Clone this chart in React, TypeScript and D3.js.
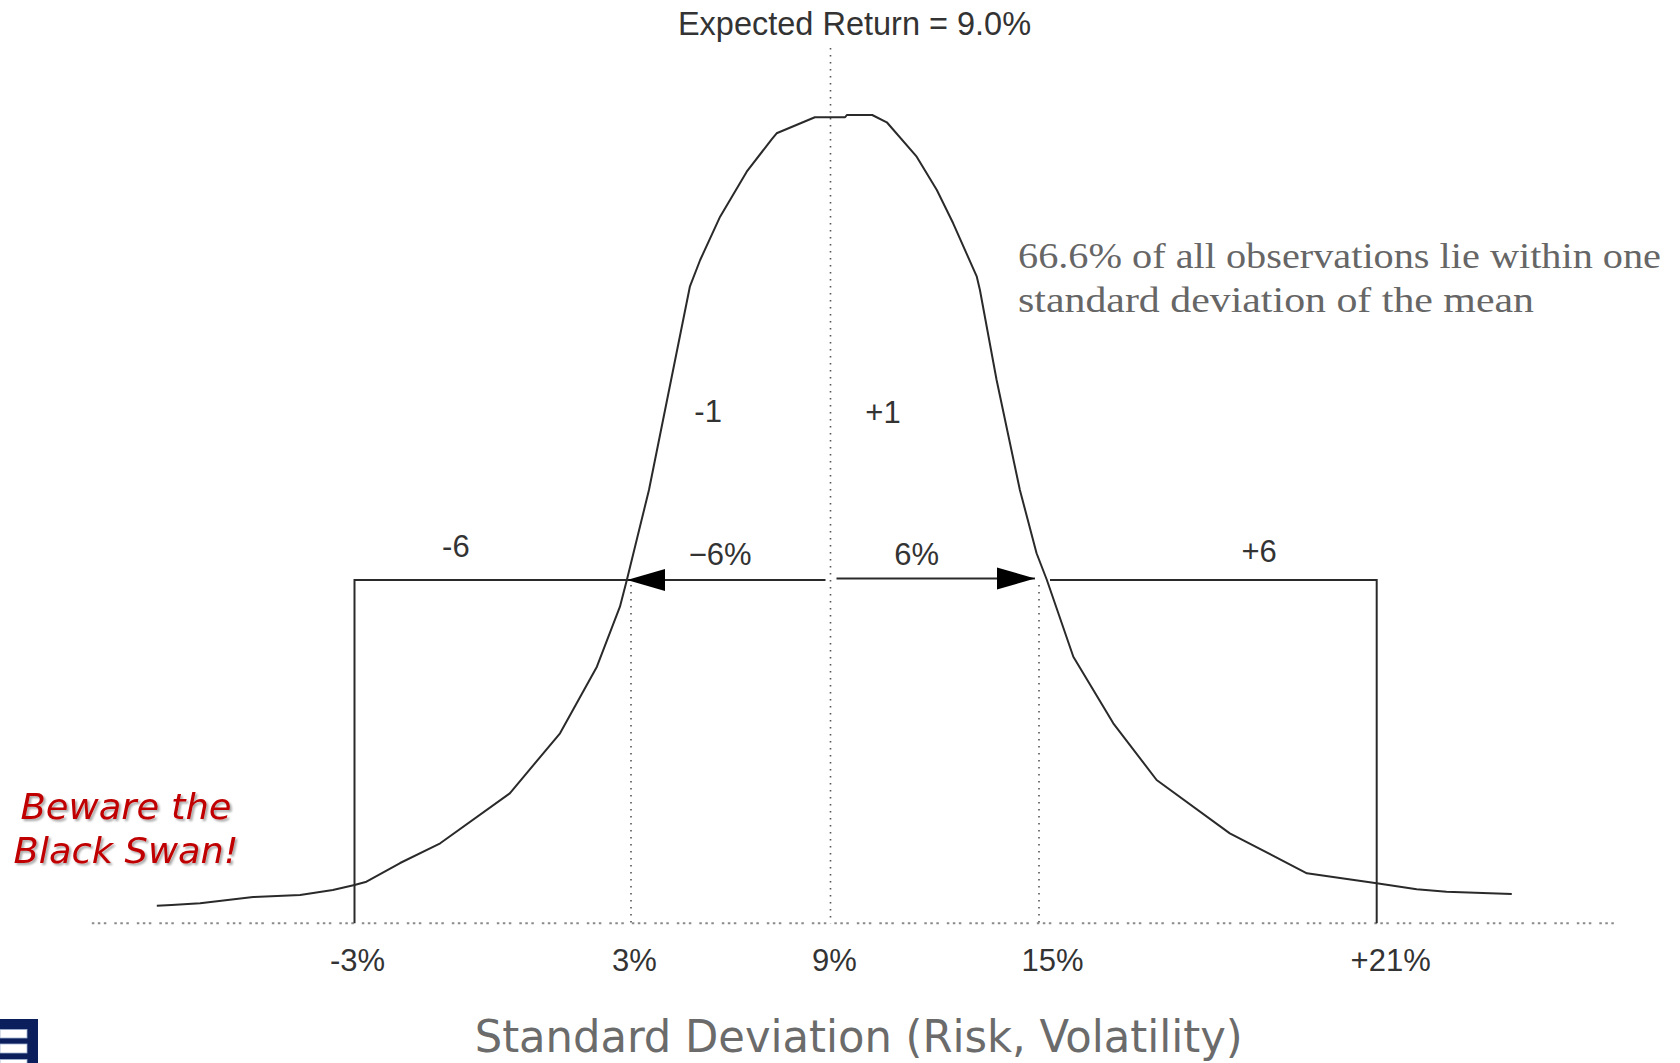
import React from "react";
import * as d3 from "d3";

// ---- Data ----
const returnsPct = [
  -7.29, -6.97, -6.35, -5.2, -4.18, -3.47, -3.0, -2.74, -2.01, -1.14, 0.37, 1.46, 2.26, 2.76, 2.91,
  3.54, 4.77, 5.08, 5.68, 6.48, 7.23, 7.38, 8.53, 9.42, 9.47, 10.2, 10.62, 11.48, 12.06, 12.53,
  13.21, 13.3, 13.78, 14.45, 14.93, 15.14, 15.61, 16.32, 17.09, 18.39, 19.76, 21.0, 21.71, 22.24,
  23.01, 23.4,
];
const frequency = [
  2.18, 2.26, 2.47, 3.25, 3.5, 4.12, 4.73, 5.15, 7.46, 9.9, 16.08, 23.51, 31.75, 39.17, 42.47,
  53.61, 78.76, 82.06, 87.42, 92.99, 96.99, 97.74, 99.72, 99.72, 100, 100, 99.1, 94.84, 90.72, 86.6,
  80.0, 78.35, 67.22, 53.61, 45.78, 42.47, 32.98, 24.74, 17.73, 11.13, 6.19, 4.95, 4.21, 3.91,
  3.71, 3.62,
];
const tickValues = [-3, 3, 9, 15, 21];
const tickLabels = ["-3%", "3%", "9%", "15%", "+21%"];
const meanReturn = 9;
const oneSigmaLow = 3;
const oneSigmaHigh = 15;
const tailLow = -3;
const tailHigh = 21;
const bracketLevel = 42.47;
const meanLineTop = 108.3;
const axisExtent = [-8.7, 25.3];

const annotationTexts = ["-6", "\u22126%", "6%", "+6", "-1", "+1"];
const annotationX = [-0.8, 5.68, 11.48, 18.91, 5.32, 10.51];
const annotationY = [45.35, 44.33, 44.33, 44.74, 62.06, 61.86];

const titleText = "Expected Return = 9.0%";
const axisTitle = "Standard Deviation (Risk, Volatility)";
const noteLines = ["66.6% of all observations lie within one", "standard deviation of the mean"];
const swanLines = ["Beware the", "Black Swan!"];

const W = 1680;
const H = 1063;

export default function App() {
  const x = d3
    .scaleLinear()
    .domain(tickValues)
    .range([354.5, 631, 830.5, 1039, 1376.7]);
  const y = d3.scaleLinear().domain([0, 100]).range([923.3, 115]);

  const pts: [number, number][] = returnsPct.map((r, i) => [r, frequency[i]]);
  const line = d3
    .line<[number, number]>()
    .x((d) => x(d[0]))
    .y((d) => y(d[1]))
    .curve(d3.curveLinear);

  const y0 = y(0);
  const yB = y(bracketLevel);
  const ink = "#2a2a2a";
  const labelNudge = [3, 3.5, 4, 13.5, 14];

  const lTip = x(oneSigmaLow) - 4;
  const rTip = x(oneSigmaHigh) - 4;
  const aLen = 38;
  const aHalf = 11;

  return (
    <div style={{ position: "absolute", left: 0, top: 0, width: W, height: H, background: "#fff" }}>
      <svg width={W} height={H} viewBox={`0 0 ${W} ${H}`} style={{ display: "block" }}>
        <defs>
          <filter id="shadow" x="-10%" y="-20%" width="130%" height="150%">
            <feDropShadow dx="2" dy="2" stdDeviation="1.2" floodColor="#000" floodOpacity="0.35" />
          </filter>
        </defs>
        <rect x={0} y={0} width={W} height={H} fill="#fff" />

        {/* baseline dotted axis */}
        <line
          x1={x(axisExtent[0])}
          x2={x(axisExtent[1])}
          y1={y0}
          y2={y0}
          stroke="#8a8a8a"
          strokeWidth={2}
          strokeDasharray="2.5 3.5 2.5 3.5 2.5 8"
        />

        {/* mean dotted line */}
        <line
          x1={x(meanReturn)}
          x2={x(meanReturn)}
          y1={y(meanLineTop)}
          y2={y0}
          stroke="#555"
          strokeWidth={1.6}
          strokeDasharray="1.6 5.4"
        />
        {[oneSigmaLow, oneSigmaHigh].map((v) => (
          <line
            key={v}
            x1={x(v)}
            x2={x(v)}
            y1={yB + 5}
            y2={y0}
            stroke="#555"
            strokeWidth={1.6}
            strokeDasharray="1.6 5.4"
          />
        ))}

        {/* left bracket */}
        <path
          d={`M${x(tailLow)},${y0}V${yB}H${x(meanReturn) - 5}`}
          fill="none"
          stroke={ink}
          strokeWidth={2}
        />
        {/* right arrow shaft */}
        <path d={`M${x(meanReturn) + 6},${yB - 1.5}H${rTip}`} fill="none" stroke={ink} strokeWidth={2} />
        {/* right bracket */}
        <path
          d={`M${x(oneSigmaHigh) + 11},${yB}H${x(tailHigh)}V${y0}`}
          fill="none"
          stroke={ink}
          strokeWidth={2}
        />
        <polygon
          points={`${lTip},${yB} ${lTip + aLen},${yB - aHalf} ${lTip + aLen},${yB + aHalf}`}
          fill="#000"
        />
        <polygon
          points={`${rTip},${yB - 1.5} ${rTip - aLen},${yB - 1.5 - aHalf} ${rTip - aLen},${yB - 1.5 + aHalf}`}
          fill="#000"
        />

        {/* distribution curve */}
        <path d={line(pts) || ""} fill="none" stroke={ink} strokeWidth={2} strokeLinejoin="round" />

        <text
          x={x(meanReturn) + 24}
          y={35}
          textAnchor="middle"
          fontFamily="'Liberation Sans', Arial, sans-serif"
          fontSize={32.5}
          fill="#333"
        >
          {titleText}
        </text>

        {annotationTexts.map((t, i) => (
          <text
            key={i}
            x={x(annotationX[i])}
            y={y(annotationY[i])}
            textAnchor="middle"
            fontFamily="'Liberation Sans', Arial, sans-serif"
            fontSize={31}
            fill="#333"
          >
            {t}
          </text>
        ))}

        {tickValues.map((v, i) => (
          <text
            key={v}
            x={x(v) + labelNudge[i]}
            y={971}
            textAnchor="middle"
            fontFamily="'Liberation Sans', Arial, sans-serif"
            fontSize={31}
            fill="#333"
          >
            {tickLabels[i]}
          </text>
        ))}

        <text
          x={858.7}
          y={1052}
          textAnchor="middle"
          fontFamily="'DejaVu Sans Condensed', 'DejaVu Sans', sans-serif"
          fontSize={45}
          fill="#6b6b6b"
          textLength={768}
          lengthAdjust="spacingAndGlyphs"
        >
          {axisTitle}
        </text>

        {noteLines.map((t, i) => (
          <text
            key={i}
            x={1018}
            y={268 + i * 44}
            fontFamily="'Liberation Serif', 'Times New Roman', serif"
            fontSize={35}
            fill="#666"
            textLength={i === 0 ? 643 : 516}
            lengthAdjust="spacingAndGlyphs"
          >
            {t}
          </text>
        ))}

        {swanLines.map((t, i) => (
          <text
            key={i}
            x={126}
            y={819 + i * 44}
            textAnchor="middle"
            fontFamily="'DejaVu Sans', Verdana, sans-serif"
            fontStyle="italic"
            fontSize={35}
            fill="#c00000"
            filter="url(#shadow)"
            textLength={i === 0 ? 211 : 225}
            lengthAdjust="spacingAndGlyphs"
          >
            {t}
          </text>
        ))}

        {/* logo fragment */}
        <rect x={0} y={1019} width={38} height={44} fill="#0a1f5c" />
        <rect x={0} y={1029.5} width={27} height={8.5} fill="#fff" stroke="#9fb0d0" strokeWidth={0.8} />
        <rect x={0} y={1044} width={27} height={9} fill="#fff" stroke="#9fb0d0" strokeWidth={0.8} />
        <rect x={0} y={1059.5} width={27} height={6} fill="#fff" stroke="#9fb0d0" strokeWidth={0.8} />
      </svg>
    </div>
  );
}
